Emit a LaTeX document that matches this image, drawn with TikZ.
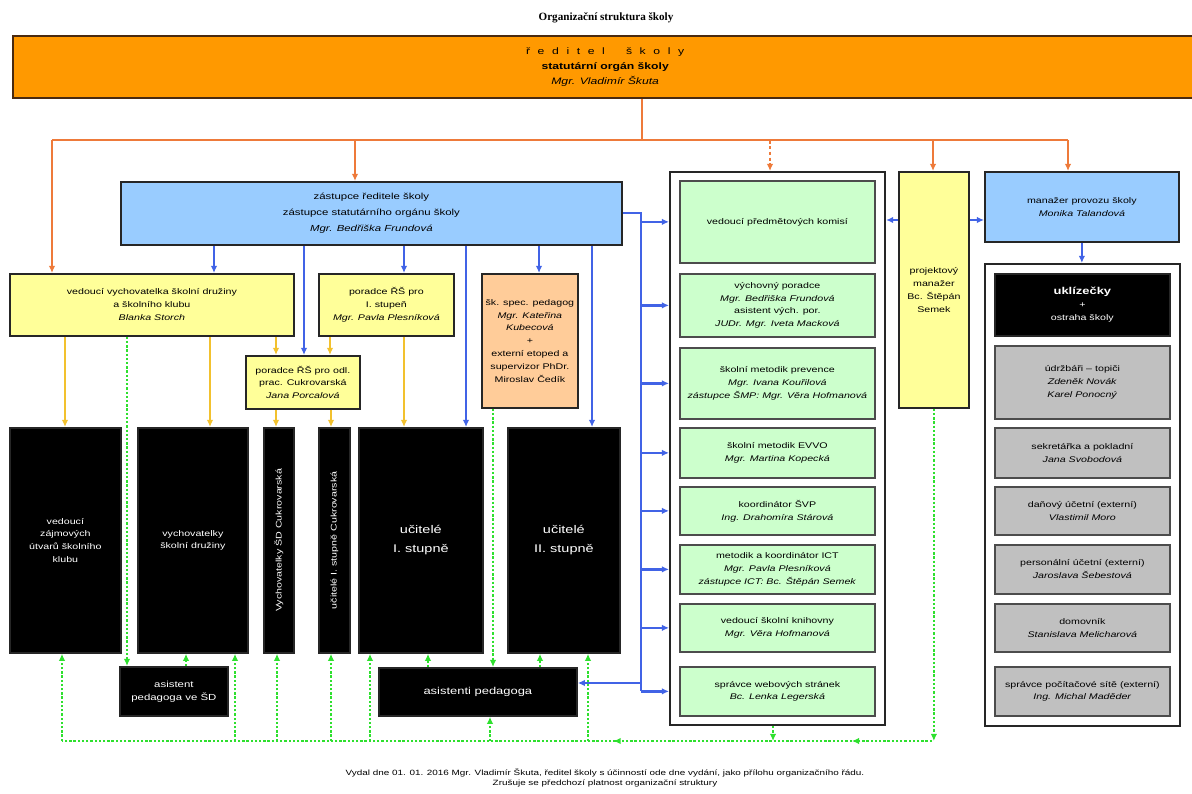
\documentclass[tikz,border=0pt]{standalone}
\usepackage{fontspec}
\setmainfont{Liberation Sans}[FakeStretch=1.3]
\newfontfamily\titlefont{Liberation Serif}
\usetikzlibrary{arrows.meta, decorations.markings}

\definecolor{cOrFill}{HTML}{FF9900}
\definecolor{cOrLine}{HTML}{EE7A3A}
\definecolor{cDir}{HTML}{4A2A10}
\definecolor{cBlueFill}{HTML}{99CCFF}
\definecolor{cBlueLine}{HTML}{4163E6}
\definecolor{cYelFill}{HTML}{FFFF99}
\definecolor{cYelLine}{HTML}{F2C12E}
\definecolor{cGreenFill}{HTML}{CCFFCC}
\definecolor{cGreenLine}{HTML}{2EE02E}
\definecolor{cPeach}{HTML}{FFCC99}
\definecolor{cGray}{HTML}{C0C0C0}

\newcommand{\px}{0.03cm}
\newcommand{\maly}{\fontsize{7}{11}\selectfont}
\newcommand{\ls}{\hspace{6.5pt}}

\begin{document}
\begin{tikzpicture}[
        x=\px, y=-\px,
        wh/.style 2 args = {minimum width=#1*\px, minimum height=#2*\px}, % rozmery boxu
        box/.style = {draw=black!85, line width=1.5pt, inner sep=1pt, align=center, font=\maly, anchor=north west},
        modry/.style = {box, fill=cBlueFill},
        zluty/.style = {box, fill=cYelFill},
        zeleny/.style = {box, fill=cGreenFill, draw=black!70},
        sedy/.style = {box, fill=cGray, draw=black!70},
        cerny/.style = {box, fill=black, text=white},
        ramec/.style = {draw=black!85, line width=1.8pt, anchor=north west, inner sep=0pt},
        tip/.style = {-{Latex[length=6pt, width=5.5pt]}},
        oline/.style = {draw=cOrLine, line width=2pt},
        oarr/.style = {oline, tip},
        bline/.style = {draw=cBlueLine, line width=2pt},
        barr/.style = {bline, tip},
        yarr/.style = {draw=cYelLine, line width=2pt, tip},
        gline/.style = {draw=cGreenLine, line width=2pt, dash pattern=on 2pt off 1.6pt},
        garr/.style = {gline, tip},
    ]
    \useasboundingbox (0,0) rectangle (1192,794);

    % nadpis a reditel
    \node[font=\titlefont\bfseries\fontsize{9.5}{10}\selectfont] (nadpis) at (606,18) {Organizační struktura školy};
    \node[box, fill=cOrFill, draw=cDir, line width=2pt, wh={1184}{62}, font=\fontsize{8}{12.5}\selectfont] (dir) at (12,35)
        {ř\ls e\ls d\ls i\ls t\ls e\ls l\hspace{18pt}š\ls k\ls o\ls l\ls y\\ \textbf{statutární orgán školy}\\ \textit{Mgr. Vladimír Škuta}};

    % zastupce a poradci
    \node[modry, wh={501}{63}, font=\fontsize{7.5}{13.5}\selectfont] (dep) at (120,181)
        {zástupce ředitele školy\\ zástupce statutárního orgánu školy\\ \textit{Mgr. Bedřiška Frundová}};
    \node[zluty, wh={284}{62}] (vych) at (9,273) {vedoucí vychovatelka školní družiny\\ a školního klubu\\ \textit{Blanka Storch}};
    \node[zluty, wh={135}{62}] (por1) at (318,273) {poradce ŘŠ pro\\ I. stupeň\\ \textit{Mgr. Pavla Plesníková}};
    \node[zluty, wh={114}{53}] (porC) at (245,355) {poradce ŘŠ pro odl.\\ prac. Cukrovarská\\ \textit{Jana Porcalová}};
    \node[box, fill=cPeach, wh={96}{134}] (spec) at (481,273)
        {šk. spec. pedagog\\ \textit{Mgr. Kateřina}\\ \textit{Kubecová}\\ +\\ externí etoped a\\ supervizor PhDr.\\ Miroslav Čedík};

    % cerne boxy
    \node[cerny, wh={111}{225}] (b1) at (9,427) {vedoucí\\ zájmových\\ útvarů školního\\ klubu};
    \node[cerny, wh={110}{225}] (b2) at (137,427) {vychovatelky\\ školní družiny};
    \node[cerny, wh={30}{225}] (b3) at (263,427) {};
    \node[cerny, wh={31}{225}] (b4) at (318,427) {};
    \node[rotate=90, text=white, font=\maly] at (b3.center) {Vychovatelky ŠD Cukrovarská};
    \node[rotate=90, text=white, font=\maly] at (b4.center) {učitelé I. stupně Cukrovarská};
    \node[cerny, wh={124}{225}, font=\fontsize{9.5}{16}\selectfont] (b5) at (358,427) {učitelé\\ I. stupně};
    \node[cerny, wh={112}{225}, font=\fontsize{9.5}{16}\selectfont] (b6) at (507,427) {učitelé\\ II. stupně};
    \node[cerny, wh={108}{49}, font=\fontsize{7.5}{11}\selectfont] (asSD) at (119,666) {asistent\\ pedagoga ve ŠD};
    \node[cerny, wh={198}{48}, font=\fontsize{8.5}{11}\selectfont] (asP) at (378,667) {asistenti pedagoga};

    % zelena skupina
    \node[ramec, wh={215}{553}] (grn) at (669,171) {};
    \node[zeleny, wh={195}{82}] (g1) at (679,180) {vedoucí předmětových komisí};
    \node[zeleny, wh={195}{63}] (g2) at (679,273) {výchovný poradce\\ \textit{Mgr. Bedřiška Frundová}\\ asistent vých. por.\\ \textit{JUDr. Mgr. Iveta Macková}};
    \node[zeleny, wh={195}{71}] (g3) at (679,347) {školní metodik prevence\\ \textit{Mgr. Ivana Kouřilová}\\ \textit{zástupce ŠMP: Mgr. Věra Hofmanová}};
    \node[zeleny, wh={195}{50}] (g4) at (679,427) {školní metodik EVVO\\ \textit{Mgr. Martina Kopecká}};
    \node[zeleny, wh={195}{48}] (g5) at (679,486) {koordinátor ŠVP\\ \textit{Ing. Drahomíra Stárová}};
    \node[zeleny, wh={195}{49}] (g6) at (679,544) {metodik a koordinátor ICT\\ \textit{Mgr. Pavla Plesníková}\\ \textit{zástupce ICT: Bc. Štěpán Semek}};
    \node[zeleny, wh={195}{48}] (g7) at (679,603) {vedoucí školní knihovny\\ \textit{Mgr. Věra Hofmanová}};
    \node[zeleny, wh={195}{49}] (g8) at (679,666) {správce webových stránek\\ \textit{Bc. Lenka Legerská}};

    % provoz
    \node[zluty, wh={70}{236}] (proj) at (898,171) {projektový\\ manažer\\ Bc. Štěpán\\ Semek};
    \node[modry, wh={194}{70}] (man) at (984,171) {manažer provozu školy\\ \textit{Monika Talandová}};
    \node[ramec, wh={195}{462}] (gry) at (984,263) {};
    \node[cerny, wh={175}{62}] (s1) at (994,273) {{\fontsize{8.5}{12}\selectfont\bfseries uklízečky}\\ +\\ ostraha školy};
    \node[sedy, wh={175}{73}] (s2) at (994,345) {údržbáři -- topiči\\ \textit{Zdeněk Novák}\\ \textit{Karel Ponocný}};
    \node[sedy, wh={175}{50}] (s3) at (994,427) {sekretářka a pokladní\\ \textit{Jana Svobodová}};
    \node[sedy, wh={175}{48}] (s4) at (994,486) {daňový účetní (externí)\\ \textit{Vlastimil Moro}};
    \node[sedy, wh={175}{49}] (s5) at (994,544) {personální účetní (externí)\\ \textit{Jaroslava Šebestová}};
    \node[sedy, wh={175}{48}] (s6) at (994,603) {domovník\\ \textit{Stanislava Melicharová}};
    \node[sedy, wh={175}{49}] (s7) at (994,666) {správce počítačové sítě (externí)\\ \textit{Ing. Michal Maděder}};

    % pata
    \node[font=\fontsize{6.5}{8}\selectfont, align=center] (pata) at (605,778)
        {Vydal dne 01. 01. 2016 Mgr. Vladimír Škuta, ředitel školy s účinností ode dne vydání, jako přílohu organizačního řádu.\\
         Zrušuje se předchozí platnost organizační struktury};

    % oranzove vazby
    \coordinate (oL) at (52,140);
    \coordinate (oR) at (1068,140);
    \coordinate (oS) at (642,140);
    \draw[oline] (dir.south -| oS) -- (oS);
    \draw[oline] (oL) -- (oR);
    \foreach \x/\cil in {52/vych, 355/dep, 933/proj, 1068/man}
        \draw[oarr] (oL -| \x,0) -- (\cil.north -| \x,0);
    \draw[oarr, dash pattern=on 3pt off 2pt] (oL -| 770,0) -- (grn.north -| 770,0);

    % modre vazby
    \foreach \x/\cil in {214/vych, 304/porC, 404/por1, 466/b5, 539/spec, 592/b6}
        \draw[barr] (dep.south -| \x,0) -- (\cil.north -| \x,0);
    \coordinate (bH) at (641,213);
    \coordinate (bD) at (641,691);
    \draw[bline] (dep.east |- bH) -- (bH) -- (bD);
    \foreach \g in {g1,g2,g3,g4,g5,g6,g7,g8}
        \draw[barr] (bH |- \g) -- (grn.west |- \g);
    \draw[barr] (bH |- 0,683) -- (asP.east |- 0,683);
    \draw[barr] (proj.west |- 0,220) -- (grn.east |- 0,220);
    \draw[barr] (proj.east |- 0,220) -- (man.west |- 0,220);
    \draw[barr] (man.south) -- (gry.north -| man.south);

    % zlute vazby
    \foreach \x/\od/\cil in {65/vych/b1, 210/vych/b2, 276/vych/porC, 330/por1/porC, 404/por1/b5, 276/porC/b3, 331/porC/b4}
        \draw[yarr] (\od.south -| \x,0) -- (\cil.north -| \x,0);

    % zelene teckovane vazby
    \coordinate (gL) at (62,741);
    \coordinate (gR) at (932,741);
    \draw[gline, postaction={decorate}, decoration={markings,
        mark=at position 0.092 with {\arrow{Latex[length=6pt, width=5.5pt]}},
        mark=at position 0.366 with {\arrow{Latex[length=6pt, width=5.5pt]}}}] (gR) -- (gL);
    \foreach \x/\cil in {62/b1, 235/b2, 277/b3, 331/b4, 370/b5, 490/asP, 588/b6}
        \draw[garr] (gL -| \x,0) -- (\cil.south -| \x,0);
    \foreach \x/\od/\cil in {186/asSD/b2, 428/asP/b5, 540/asP/b6}
        \draw[garr] (\od.north -| \x,0) -- (\cil.south -| \x,0);
    \draw[garr] (vych.south -| 127,0) -- (asSD.north -| 127,0);
    \draw[garr] (spec.south -| 493,0) -- (asP.north -| 493,0);
    \draw[garr] (grn.south -| 773,0) -- (gL -| 773,0);
    \draw[garr] (proj.south) -- (proj.south |- gR);
\end{tikzpicture}
\end{document}
